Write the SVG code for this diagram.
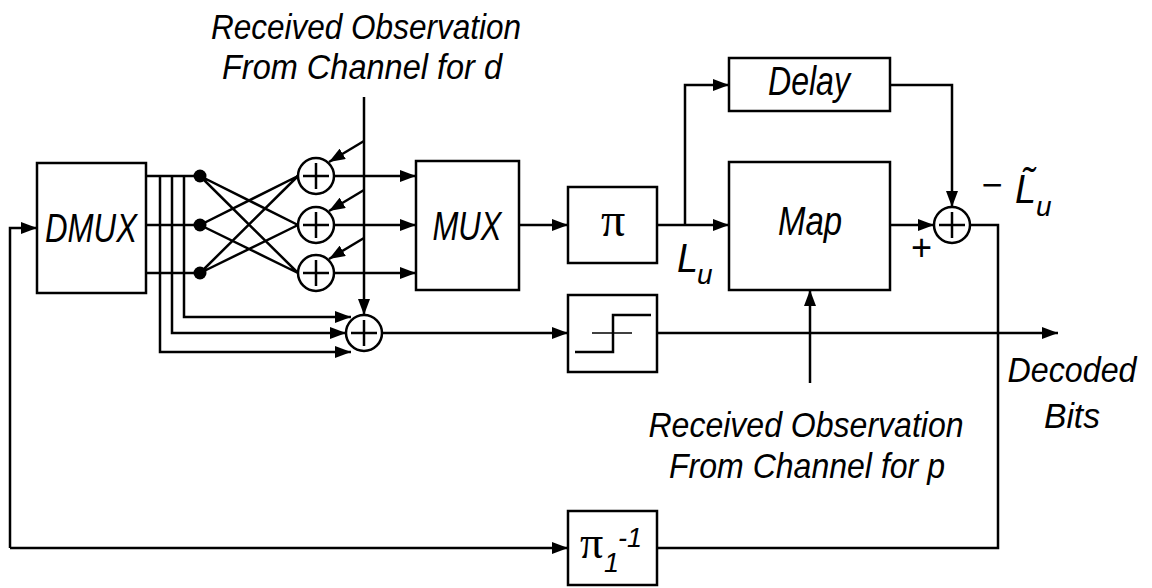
<svg xmlns="http://www.w3.org/2000/svg" width="1152" height="588" viewBox="0 0 1152 588">
<style>
.box{fill:#fff;stroke:#000;stroke-width:2.5}
.ln{fill:none;stroke:#000;stroke-width:2.5}
.sum{fill:#fff;stroke:#000;stroke-width:2.5}
.t{font-family:"Liberation Sans",Arial,sans-serif;font-style:italic;fill:#000}
.lbl{font-size:41px;text-anchor:middle}
.ann{font-size:35px;text-anchor:middle}
.pi{font-family:"Liberation Serif","Times New Roman",serif;fill:#000}
</style>
<defs>
<marker id="arr" viewBox="0 0 16 12" refX="16" refY="6" markerWidth="16" markerHeight="12" orient="auto" markerUnits="userSpaceOnUse">
<path d="M0,0 L16,6 L0,12 z" fill="#000"/>
</marker>
<g id="plus">
<circle r="18" class="sum"/>
<path d="M-13,0 H13 M0,-13 V13" stroke="#000" stroke-width="2.5"/>
</g>
</defs>
<rect width="1152" height="588" fill="#fff"/>

<g id="connectors">
<path class="ln" d="M146,176 H200 M146,225 H200 M146,273 H200"/>
<path class="ln" d="M200,176 L298,225 M200,176 L298,273 M200,225 L298,176 M200,225 L298,273 M200,273 L298,176 M200,273 L298,225"/>
<path class="ln" d="M184,176 V317 H351" marker-end="url(#arr)"/>
<path class="ln" d="M172,176 V333 H346" marker-end="url(#arr)"/>
<path class="ln" d="M160,176 V352 H351" marker-end="url(#arr)"/>
<path class="ln" d="M364,97 V315" marker-end="url(#arr)"/>
<path class="ln" d="M364,141 L329,162" marker-end="url(#arr)"/>
<path class="ln" d="M364,190 L329,211" marker-end="url(#arr)"/>
<path class="ln" d="M364,238 L329,259" marker-end="url(#arr)"/>
<path class="ln" d="M334,176 H416" marker-end="url(#arr)"/>
<path class="ln" d="M334,225 H416" marker-end="url(#arr)"/>
<path class="ln" d="M334,273 H416" marker-end="url(#arr)"/>
<path class="ln" d="M519,225 H568" marker-end="url(#arr)"/>
<path class="ln" d="M657,225 H729" marker-end="url(#arr)"/>
<path class="ln" d="M685,225 V85 H729" marker-end="url(#arr)"/>
<path class="ln" d="M890,85 H952 V207" marker-end="url(#arr)"/>
<path class="ln" d="M890,225 H934" marker-end="url(#arr)"/>
<path class="ln" d="M810,383 V290" marker-end="url(#arr)"/>
<path class="ln" d="M382,333 H568" marker-end="url(#arr)"/>
<path class="ln" d="M657,333 H1058" marker-end="url(#arr)"/>
<path class="ln" d="M970,225 H998 V548 H657"/>
<path class="ln" d="M10,548 H568" marker-end="url(#arr)"/>
<path class="ln" d="M10,548 V228 H37" marker-end="url(#arr)"/>
</g>

<g id="dmux">
<rect class="box" x="37" y="163" width="109" height="130"/>
<text class="t lbl" x="91" y="242" textLength="92" lengthAdjust="spacingAndGlyphs">DMUX</text>
</g>
<g id="dots">
<circle cx="200" cy="176" r="6.5"/>
<circle cx="200" cy="225" r="6.5"/>
<circle cx="200" cy="273" r="6.5"/>
</g>
<g id="adder1"><use href="#plus" x="316" y="176"/></g>
<g id="adder2"><use href="#plus" x="316" y="225"/></g>
<g id="adder3"><use href="#plus" x="316" y="273"/></g>
<g id="adder4"><use href="#plus" x="364" y="333"/></g>
<g id="mux">
<rect class="box" x="416" y="161" width="103" height="129"/>
<text class="t lbl" x="467" y="240" textLength="69" lengthAdjust="spacingAndGlyphs">MUX</text>
</g>
<g id="pi">
<rect class="box" x="568" y="187" width="89" height="76"/>
<text class="pi" x="613" y="236" font-size="48" text-anchor="middle">π</text>
</g>
<g id="delay">
<rect class="box" x="729" y="58" width="161" height="53"/>
<text class="t lbl" x="809" y="95" textLength="82" lengthAdjust="spacingAndGlyphs">Delay</text>
</g>
<g id="map">
<rect class="box" x="729" y="162" width="161" height="128"/>
<text class="t lbl" x="810" y="235" textLength="64" lengthAdjust="spacingAndGlyphs">Map</text>
</g>
<g id="adder5"><use href="#plus" x="952" y="225"/></g>
<g id="threshold">
<rect class="box" x="568" y="295" width="89" height="77"/>
<path d="M592,333 H632" stroke="#000" stroke-width="1.5"/>
<path class="ln" d="M575,352 H613 V315 H651" stroke-width="3"/>
</g>
<g id="pi-inv">
<rect class="box" x="568" y="511" width="89" height="74"/>
<text class="pi" x="580" y="558" font-size="46">π</text>
<text class="t" x="604" y="572" font-size="27">1</text>
<text class="t" x="618" y="547" font-size="27">-1</text>
</g>

<g id="labels">
<text class="t ann" x="366" y="39" textLength="310" lengthAdjust="spacingAndGlyphs">Received Observation</text>
<text class="t ann" x="362" y="79" textLength="280" lengthAdjust="spacingAndGlyphs">From Channel for d</text>
<text class="t ann" x="806" y="437" textLength="315" lengthAdjust="spacingAndGlyphs">Received Observation</text>
<text class="t ann" x="807" y="478" textLength="276" lengthAdjust="spacingAndGlyphs">From Channel for p</text>
<text class="t ann" x="1072" y="382" textLength="129" lengthAdjust="spacingAndGlyphs">Decoded</text>
<text class="t ann" x="1072" y="428" textLength="56" lengthAdjust="spacingAndGlyphs">Bits</text>
<text class="t" x="677" y="272" font-size="40" textLength="21" lengthAdjust="spacingAndGlyphs">L</text>
<text class="t" x="697" y="284" font-size="28">u</text>
<text class="t" x="981" y="197" font-size="36">−</text>
<text class="t" x="1015" y="203" font-size="40" textLength="21" lengthAdjust="spacingAndGlyphs">L&#x303;</text>
<text class="t" x="1036" y="216" font-size="28">u</text>
<text class="t" x="921" y="260" font-size="36" text-anchor="middle">+</text>
</g>
</svg>
